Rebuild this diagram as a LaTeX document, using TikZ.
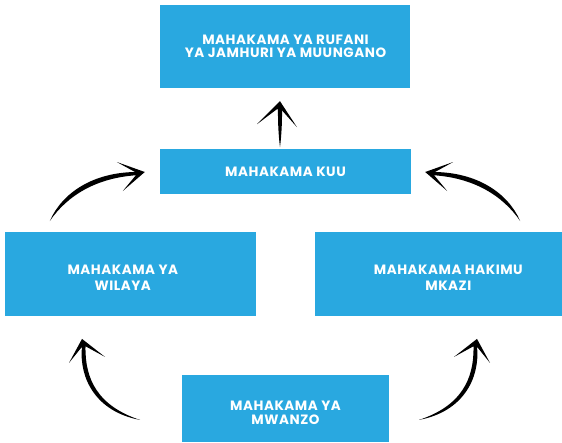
\documentclass[tikz,border=0pt]{standalone}
\usepackage{fontspec}
\usetikzlibrary{calc}
\newfontfamily\boxfont{Poppins}[LetterSpace=4]
\definecolor{courtblue}{RGB}{41,168,224}
\tikzset{
  courtbox/.style={fill=courtblue, draw=none, inner sep=0pt, anchor=center},
  courttext/.style={text=white, inner sep=0pt, align=center, font=\boxfont\bfseries\fontsize{13.5}{#1}\selectfont},
  courttext/.default=13,
  arrowA/.pic={
    \fill (0,0) -- (-28,-10) -- (-8.7,0.6) -- (-8.4,2.6) -- (-22,19) -- cycle;
    \fill (-95,49) .. controls (-82.4,20.2) and (-50.9,0.1) .. (-8,0)
      -- (-8,3.2) .. controls (-49.1,5.9) and (-77.6,23.8) .. (-95,49) -- cycle;
  },
  arrowB/.pic={
    \fill (0,0) -- (-13,24) -- (-0.7,8.7) -- (4.1,7.7) -- (23,18) -- cycle;
    \fill (58,81) .. controls (14.25,72.9) and (-3,39.85) .. (-0.1,8.2)
      -- (3.5,8.2) .. controls (3,40.15) and (15.75,67.1) .. (58,81) -- cycle;
  },
  arrowC/.pic={
    \fill (0,0) -- (-23,23) -- (-3.2,8.1) -- (1.45,8.6) -- (17,26) -- cycle;
    \fill (-2,8) .. controls (-2.2,25) and (-1,38) .. (0,46)
      .. controls (1,38) and (2.2,25) .. (2,8) -- cycle;
  }
}
\begin{document}
\begin{tikzpicture}[x=1pt,y=-1pt]
\useasboundingbox (0,0) rectangle (562,442);
% boxes
\node[courtbox, minimum width=250pt, minimum height=83pt] (rufani) at (285,46.5) {};
\node[courtbox, minimum width=251pt, minimum height=45pt] (kuu) at (285.5,171.5) {};
\node[courtbox, minimum width=251pt, minimum height=84pt] (wilaya) at (130.5,273.7) {};
\node[courtbox, minimum width=247pt, minimum height=84pt] (hakimu) at (438.5,273.7) {};
\node[courtbox, minimum width=207pt, minimum height=67pt] (mwanzo) at (285.5,408.5) {};
% texts
\node[courttext=13] (trufani) at ($(rufani.center)+(0.5,0.3)$) {MAHAKAMA YA RUFANI\\YA JAMHURI YA MUUNGANO};
\node[courttext] (tkuu) at ($(kuu.center)+(0,0.2)$) {MAHAKAMA KUU};
\node[courttext=16] (twilaya) at ($(wilaya.center)+(-7.7,4.3)$) {MAHAKAMA YA\\WILAYA};
\node[courttext=16] (thakimu) at ($(hakimu.center)+(9.8,4.3)$) {MAHAKAMA HAKIMU\\MKAZI};
\node[courttext=14] (tmwanzo) at ($(mwanzo.center)+(0,4.5)$) {MAHAKAMA YA\\MWANZO};
% arrows
\coordinate (tipA) at ($(kuu.west)+(-15,0.5)$);
\coordinate (tipAr) at ($(kuu.east)+(14,0.5)$);
\coordinate (tipC) at ($(rufani.south)+(-5,13)$);
\coordinate (tipB) at ($(wilaya.south)+(-48.5,23)$);
\coordinate (tipBr) at ($(hakimu.south)+(38.5,23)$);
\pic at (tipA) {arrowA};
\pic[xscale=-1] at (tipAr) {arrowA};
\pic at (tipC) {arrowC};
\pic at (tipB) {arrowB};
\pic[xscale=-1] at (tipBr) {arrowB};
\end{tikzpicture}
\end{document}
